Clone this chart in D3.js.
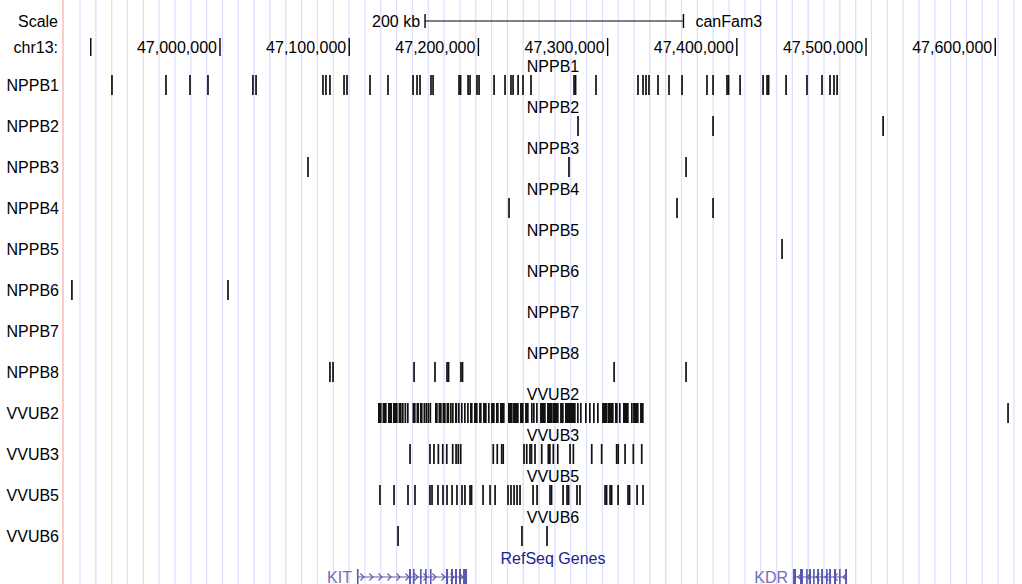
<!DOCTYPE html>
<html><head><meta charset="utf-8">
<script src="https://cdn.jsdelivr.net/npm/d3@7"></script>
<style>
html,body{margin:0;padding:0;background:#fff;}
svg{display:block;}
text{font-family:"Liberation Sans",Arial,Helvetica,sans-serif;}
</style></head><body>
<svg id="chart" width="1022" height="584"></svg>
<script>
// ---------- DATA (positions in kb on chr13, canFam3) ----------
const chrom = "chr13:";
const assembly = "canFam3";
const viewStartKb = 46878.5;
const viewEndKb = 47620.7;
const tickValuesKb = [46900, 47000, 47100, 47200, 47300, 47400, 47500, 47600];
const tickLabels = ["", "47,000,000", "47,100,000", "47,200,000", "47,300,000", "47,400,000", "47,500,000", "47,600,000"];
const scaleBarStartKb = 47158.7;
const scaleBarLenKb = 200;
const scaleBarLabel = "200 kb";

const trackNames = ["NPPB1","NPPB2","NPPB3","NPPB4","NPPB5","NPPB6","NPPB7","NPPB8","VVUB2","VVUB3","VVUB5","VVUB6"];

const nppb1 = [46916.4, 46958.2, 46976.8, 46990.7, 47025.5, 47027.9, 47079.7, 47082.0, 47085.1, 47096.0, 47098.3,
  47116.1, 47130.0, 47149.4, 47152.5, 47154.8, 47163.3, 47164.9, 47185.0, 47186.2, 47192.0, 47193.5, 47198.9,
  47200.5, 47212.1, 47220.6, 47225.2, 47226.8, 47230.7, 47234.5, 47240.7, 47274.0, 47275.2, 47291.0, 47323.5,
  47327.4, 47329.7, 47332.0, 47339.0, 47347.5, 47357.6, 47376.9, 47381.6, 47392.4, 47393.6, 47402.5, 47420.3,
  47423.4, 47424.6, 47438.1, 47454.3, 47465.9, 47472.1, 47475.2, 47477.6];
const nppb2 = [47277.1, 47381.6, 47513.2];
const nppb3 = [47068.1, 47270.1, 47360.7];
const nppb4 = [47223.7, 47353.7, 47381.6];
const nppb5 = [47435.0];
const nppb6 = [46885.4, 47006.2];
const nppb7 = [];
const nppb8 = [47085.1, 47087.5, 47150.2, 47166.4, 47175.7, 47176.9, 47186.5, 47187.7, 47305.0, 47360.7];
const vvub2 = [[47122.3,47125.1],[47125.8,47129.0],[47130.0,47133.2],[47133.9,47137.5],[47138.2,47140.6],
  [47140.9,47142.1],[47142.8,47144.1],[47144.7,47146.0],
  [47149.0,47151.4],[47152.1,47154.1],[47154.8,47156.8],[47157.5,47158.8],[47159.1,47160.3],[47160.6,47161.9],[47162.2,47163.4],
  [47166.4,47168.5],[47169.1,47171.6],[47172.2,47174.7],[47175.3,47177.4],[47178.0,47179.3],[47179.6,47180.8],
  [47181.9,47183.6],[47184.2,47185.5],[47186.5,47187.8],[47188.9,47190.1],[47191.2,47192.5],
  [47193.5,47195.5],[47196.6,47199.4],[47200.5,47202.5],[47203.6,47206.4],[47207.4,47208.7],[47209.8,47212.6],[47213.6,47215.7],
  [47216.7,47220.3],[47222.9,47226.5],[47226.8,47231.2],[47232.2,47235.0],[47236.1,47238.9],[47240.7,47242.0],
  [47242.3,47243.5],[47244.6,47245.9],[47247.7,47252.1],[47253.1,47257.5],[47257.7,47262.1],[47263.2,47266.0],
  [47267.0,47275.3],[47276.3,47277.6],[47278.6,47279.9],[47282.5,47283.8],[47285.6,47286.9],[47288.7,47290.0],
  [47291.8,47293.1],[47295.7,47300.0],[47300.3,47304.7],[47305.7,47307.8],[47308.8,47310.1],[47311.9,47316.3],
  [47318.1,47319.4],[47319.7,47324.0],[47325.1,47327.9], 47609.9];
const vvub3 = [47147.1, 47162.5, 47165.6, 47169.0, 47172.4, 47175.5, 47180.1, 47182.7, 47184.4, 47186.3,
  47211.5, 47214.6, 47218.0, 47219.2, 47235.3, 47237.4, 47239.9, 47241.1, 47243.8, 47249.0, 47254.1, 47255.3,
  47258.0, 47261.4, 47270.9, 47273.5, 47287.7, 47295.4, 47307.0, 47308.2, 47313.5, 47319.9, 47326.4];
const vvub5 = [47123.8, 47134.7, 47145.5, 47150.9, 47162.5, 47164.1, 47168.7, 47172.6, 47175.7, 47179.6, 47183.4,
  47187.3, 47189.6, 47193.5, 47194.7, 47203.6, 47209.0, 47212.9, 47222.9, 47225.2, 47227.6, 47229.9, 47232.2,
  47242.3, 47245.4, 47255.4, 47256.6, 47265.5, 47268.6, 47269.8, 47276.3, 47278.6, 47298.0, 47299.2, 47301.9,
  47303.1, 47308.1, 47315.8, 47317.0, 47322.8, 47327.4];
const vvub6 = [47137.8, 47233.7, 47253.1];

const geneTrackTitle = "RefSeq Genes";
const geneNames = ["KIT", "KDR"];
const geneStrands = ["+", "-"];
const geneSpans = [[47106.0, 47191.2], [47443.5, 47485.3]];
const kitExons = [[47106.0,47106.8],[47146.3,47147.8],[47149.4,47150.2],[47154.8,47155.6],[47158.7,47159.4],
  [47162.5,47163.3],[47174.9,47176.5],[47178.8,47180.3],[47181.9,47183.4],[47185.0,47186.5],[47188.1,47191.2]];
const kdrExons = [[47443.5,47445.8],[47448.9,47451.2],[47453.6,47454.3],[47455.9,47457.4],[47459.0,47459.8],
  [47462.1,47463.6],[47465.2,47466.7],[47469.0,47469.8],[47471.4,47472.9],[47475.2,47476.8],[47479.1,47479.9],
  [47483.8,47485.3]];

// ---------- DRAWING ----------
const W = 1022, H = 584;
const left = 63;
const svg = d3.select("#chart");
const x = d3.scaleLinear().domain([viewStartKb, viewEndKb]).range([left, W]);
const fs = 16;

// background guide lines
const gridG = svg.append("g");
gridG.selectAll("line").data(d3.range(80, W, 15.83)).join("line")
  .attr("x1", d => d).attr("x2", d => d).attr("y1", 0).attr("y2", H)
  .attr("stroke", "#dcdcfc").attr("stroke-width", 1.2);
svg.append("line").attr("x1", left).attr("x2", left).attr("y1", 0).attr("y2", H)
  .attr("stroke", "#ffb4b4").attr("stroke-width", 1.4);

// Scale row
const scaleY = 21;
svg.append("text").attr("x", 58).attr("y", scaleY).attr("text-anchor", "end")
  .attr("dominant-baseline", "central").attr("font-size", fs).attr("fill", "#000").text("Scale");
const sb0 = x(scaleBarStartKb), sb1 = x(scaleBarStartKb + scaleBarLenKb);
svg.append("line").attr("x1", sb0).attr("x2", sb1).attr("y1", scaleY).attr("y2", scaleY).attr("stroke", "#000").attr("stroke-width", 1.2);
[sb0, sb1].forEach(v => svg.append("line").attr("x1", v).attr("x2", v).attr("y1", scaleY - 7).attr("y2", scaleY + 7).attr("stroke", "#000").attr("stroke-width", 1.4));
svg.append("text").attr("x", sb0 - 5).attr("y", scaleY).attr("text-anchor", "end")
  .attr("dominant-baseline", "central").attr("font-size", fs).text(scaleBarLabel);
svg.append("text").attr("x", sb1 + 12).attr("y", scaleY).attr("text-anchor", "start")
  .attr("dominant-baseline", "central").attr("font-size", fs).text(assembly);

// chromosome ruler
const chrY = 47;
svg.append("text").attr("x", 58).attr("y", chrY).attr("text-anchor", "end")
  .attr("dominant-baseline", "central").attr("font-size", fs).text(chrom);
const tickG = svg.append("g");
tickValuesKb.forEach((v, i) => {
  const tx = x(v);
  tickG.append("line").attr("x1", tx).attr("x2", tx).attr("y1", chrY - 9).attr("y2", chrY + 9)
    .attr("stroke", "#000").attr("stroke-width", 1.4);
  if (tickLabels[i]) tickG.append("text").attr("x", tx - 3).attr("y", chrY).attr("text-anchor", "end")
    .attr("dominant-baseline", "central").attr("font-size", fs).text(tickLabels[i]);
});

// feature tracks
const trackData = [nppb1, nppb2, nppb3, nppb4, nppb5, nppb6, nppb7, nppb8, vvub2, vvub3, vvub5, vvub6];
const titleX = 553;
trackNames.forEach((name, i) => {
  const top = 75 + 41 * i;
  const g = svg.append("g");
  g.append("text").attr("x", 59).attr("y", top + 10).attr("text-anchor", "end")
    .attr("dominant-baseline", "central").attr("font-size", fs).text(name);
  g.append("text").attr("x", titleX).attr("y", top - 8.5).attr("text-anchor", "middle")
    .attr("dominant-baseline", "central").attr("font-size", fs).text(name);
  const feats = trackData[i].map(d => Array.isArray(d) ? d : [d, d]);
  g.selectAll("rect").data(feats).join("rect")
    .attr("x", d => { const a = x(d[0]), b = x(d[1]); return (b - a < 1.7) ? (a + b) / 2 - 0.85 : a; })
    .attr("width", d => Math.max(1.7, x(d[1]) - x(d[0])))
    .attr("y", top).attr("height", 20).attr("fill", "#111");
});

// RefSeq genes
svg.append("text").attr("x", titleX).attr("y", 558).attr("text-anchor", "middle")
  .attr("dominant-baseline", "central").attr("font-size", fs).attr("fill", "#22228e").text(geneTrackTitle);
const geneY = 577;
const geneColor = "#5858ac";
const exonSets = [kitExons, kdrExons];
geneNames.forEach((name, i) => {
  const g = svg.append("g");
  const [s, e] = geneSpans[i];
  g.append("text").attr("x", x(s) - 5).attr("y", geneY).attr("text-anchor", "end")
    .attr("dominant-baseline", "central").attr("font-size", fs).attr("fill", "#7070be").text(name);
  g.append("line").attr("x1", x(s)).attr("x2", x(e)).attr("y1", geneY).attr("y2", geneY)
    .attr("stroke", geneColor).attr("stroke-width", 1.2);
  const dir = geneStrands[i] === "+" ? 1 : -1;
  const chev = d3.range(x(s) + 6, x(e) - 3, 9);
  g.selectAll("path.chev").data(chev).join("path").attr("class", "chev")
    .attr("d", c => `M${c - 2.5 * dir},${geneY - 3.5} L${c + 1 * dir},${geneY} L${c - 2.5 * dir},${geneY + 3.5}`)
    .attr("fill", "none").attr("stroke", geneColor).attr("stroke-width", 1.1);
  g.selectAll("rect").data(exonSets[i]).join("rect")
    .attr("x", d => x(d[0])).attr("width", d => Math.max(1.6, x(d[1]) - x(d[0])))
    .attr("y", geneY - 8).attr("height", 16).attr("fill", geneColor);
});
</script>
</body></html>
